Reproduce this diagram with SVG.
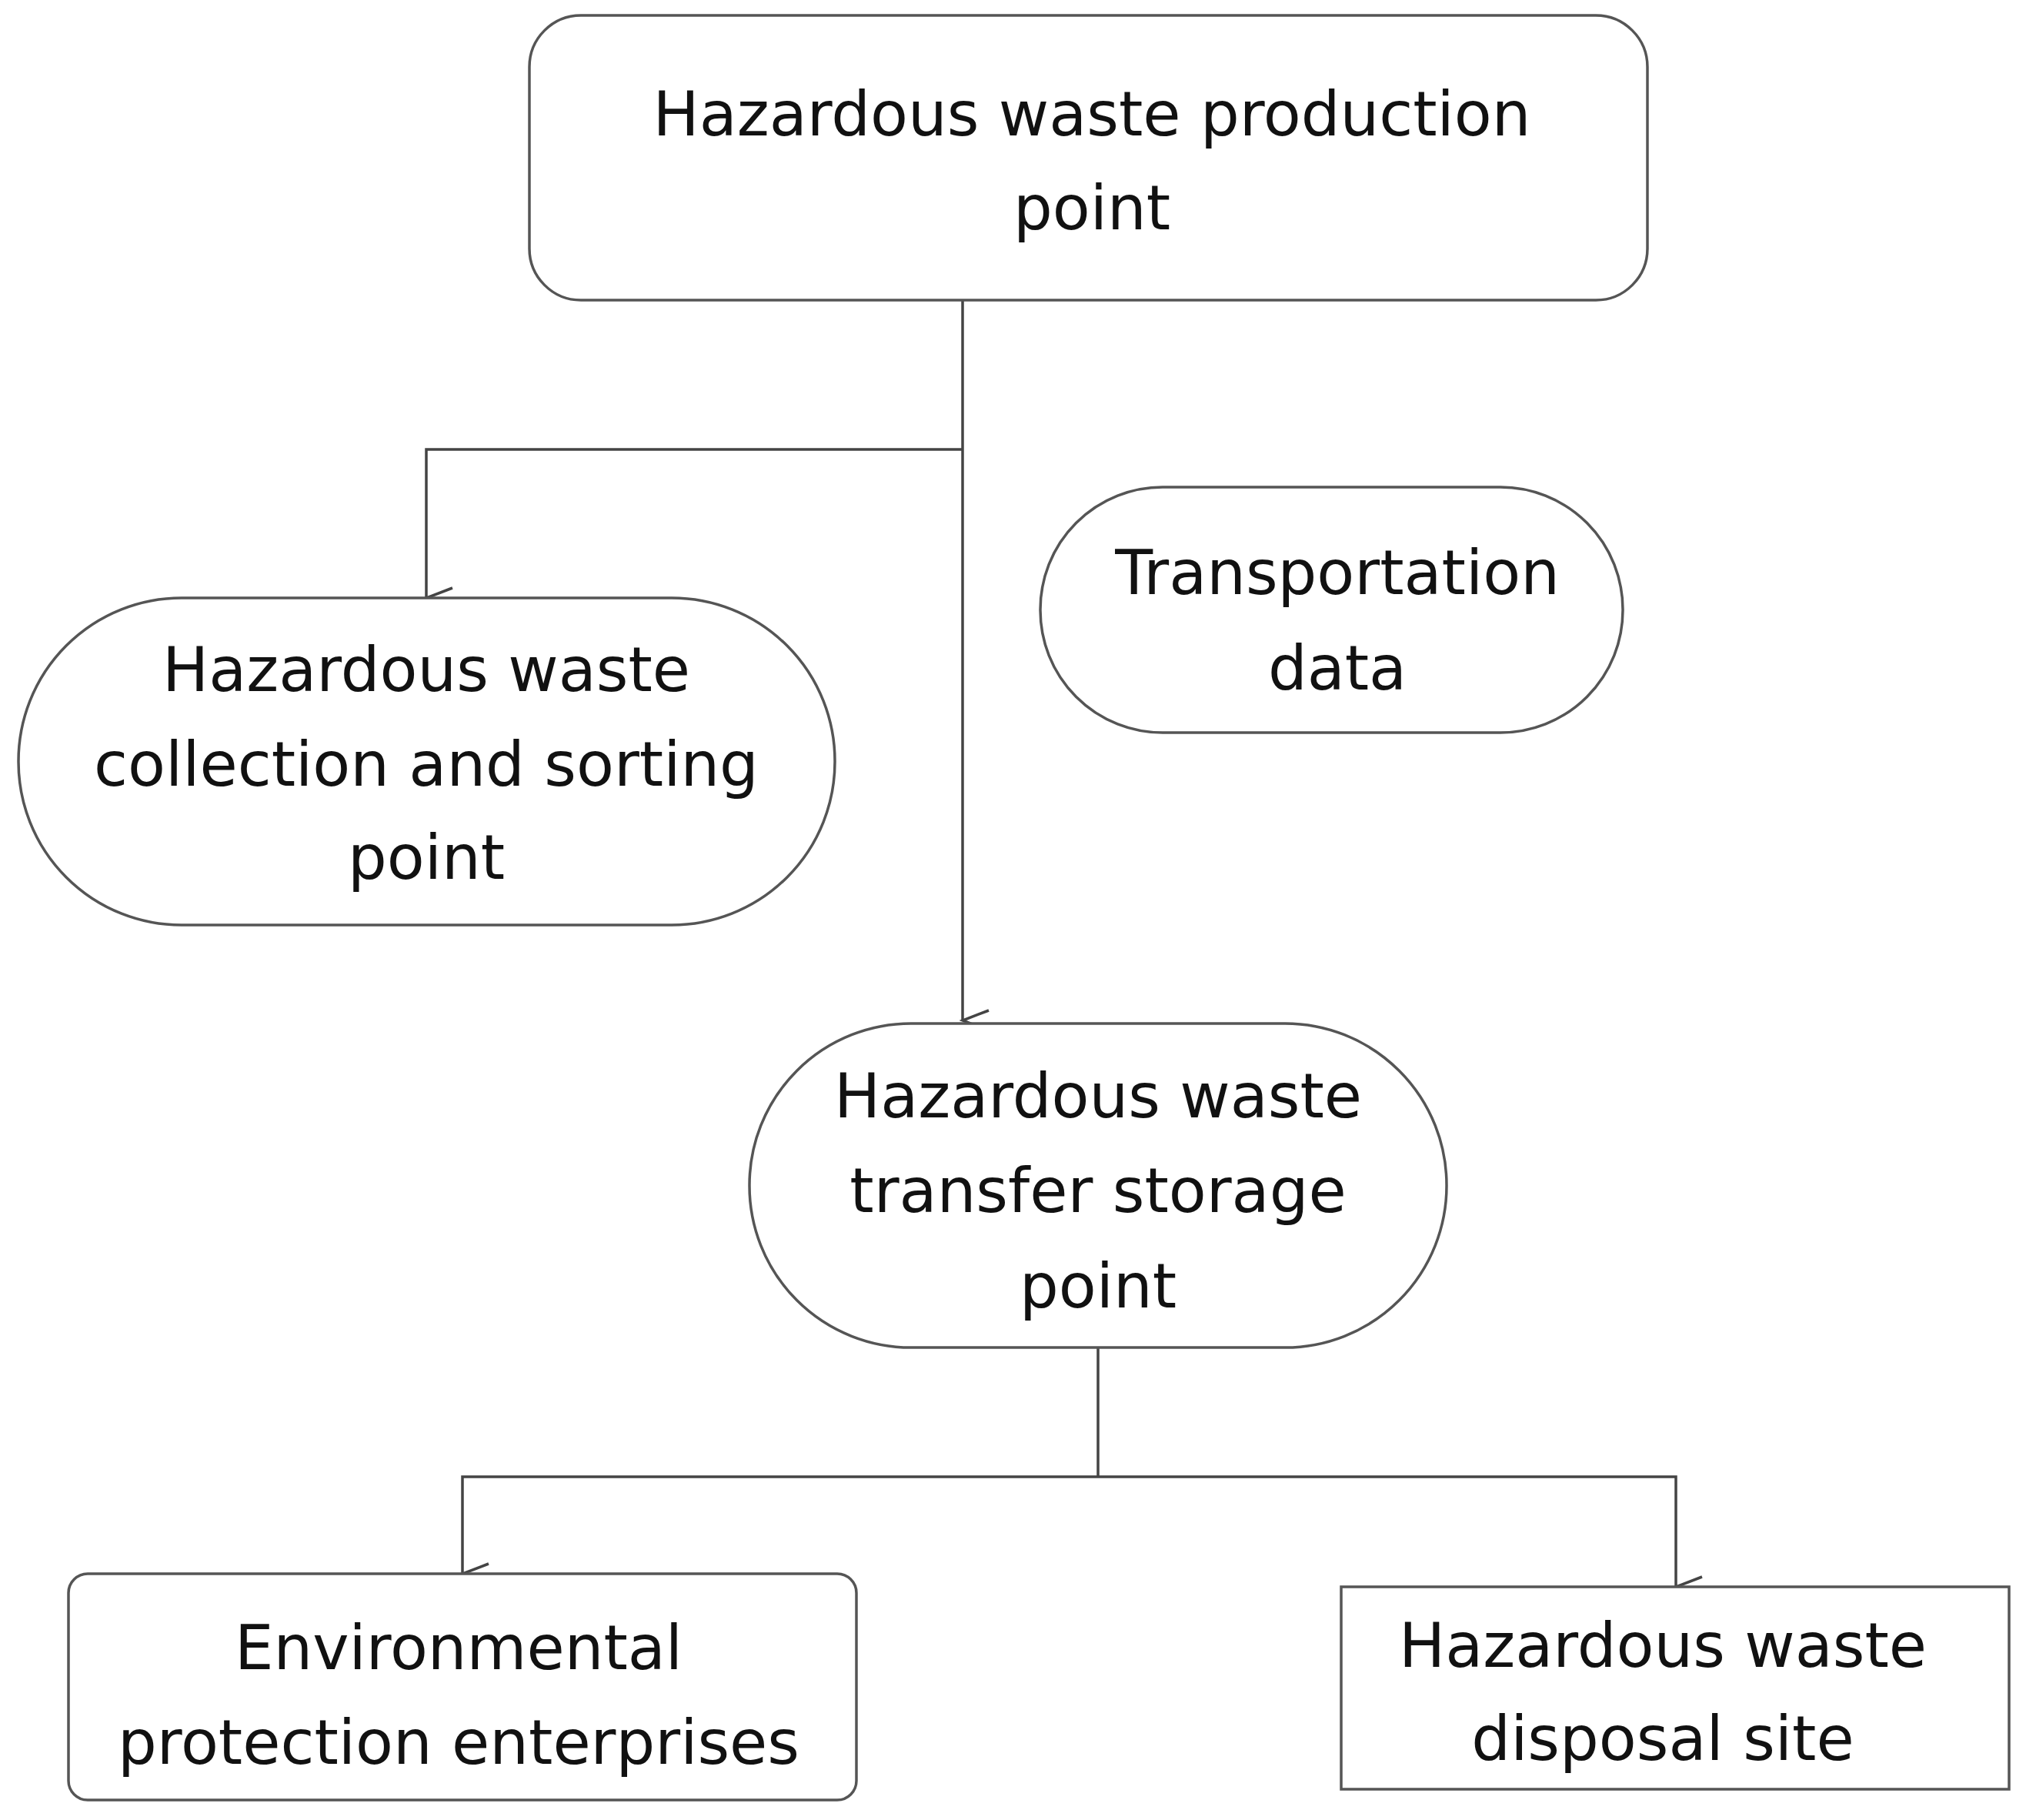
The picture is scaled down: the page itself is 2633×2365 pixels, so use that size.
<svg xmlns="http://www.w3.org/2000/svg" width="2633" height="2365" viewBox="0 0 2633 2365">
<style>
.n{fill:#fff;stroke:#555;stroke-width:3.5}
.t{font-family:"DejaVu Sans",sans-serif;font-size:80px;fill:#111;text-anchor:middle}
.c{fill:none;stroke:#444;stroke-width:3.5}
</style>
<defs><marker id="a" markerWidth="30" markerHeight="40" refX="15" refY="36" orient="auto" markerUnits="userSpaceOnUse" viewBox="0 0 30 40"><path d="M2,2 L15,36 L28,2" fill="none" stroke="#444" stroke-width="3.5"/></marker></defs>
<rect width="2633" height="2365" fill="#fff"/>
<g id="connectors">
<path class="c" d="M1251,390 V1326" marker-end="url(#a)" transform="rotate(0)"/>
<path class="c" d="M1251,584 H554 V777" marker-end="url(#a)"/>
<path class="c" d="M1427,1751 V1919 M1427,1919 H601 V2045" marker-end="url(#a)"/>
<path class="c" d="M1427,1919 H2178 V2062" marker-end="url(#a)"/>
</g>
<g id="production"><rect class="n" x="688" y="20" width="1453" height="370" rx="67"/>
<text class="t" x="1419" y="176">Hazardous waste production</text><text class="t" x="1419" y="298">point</text></g>
<g id="collection"><rect class="n" x="24" y="777" width="1061" height="425" rx="212"/>
<text class="t" x="554" y="898">Hazardous waste</text><text class="t" x="554" y="1021">collection and sorting</text><text class="t" x="554" y="1142">point</text></g>
<g id="transportation"><rect class="n" x="1352" y="633" width="757" height="319" rx="159"/>
<text class="t" x="1738" y="772">Transportation</text><text class="t" x="1738" y="896">data</text></g>
<g id="transfer"><rect class="n" x="974" y="1330" width="906" height="421" rx="210"/>
<text class="t" x="1427" y="1452">Hazardous waste</text><text class="t" x="1427" y="1575">transfer storage</text><text class="t" x="1427" y="1699">point</text></g>
<g id="environmental"><rect class="n" x="89" y="2045" width="1024" height="294" rx="25"/>
<text class="t" x="596" y="2169">Environmental</text><text class="t" x="596" y="2292">protection enterprises</text></g>
<g id="disposal"><rect class="n" x="1743" y="2062" width="868" height="263"/>
<text class="t" x="2161" y="2166">Hazardous waste</text><text class="t" x="2161" y="2287">disposal site</text></g>
</svg>
